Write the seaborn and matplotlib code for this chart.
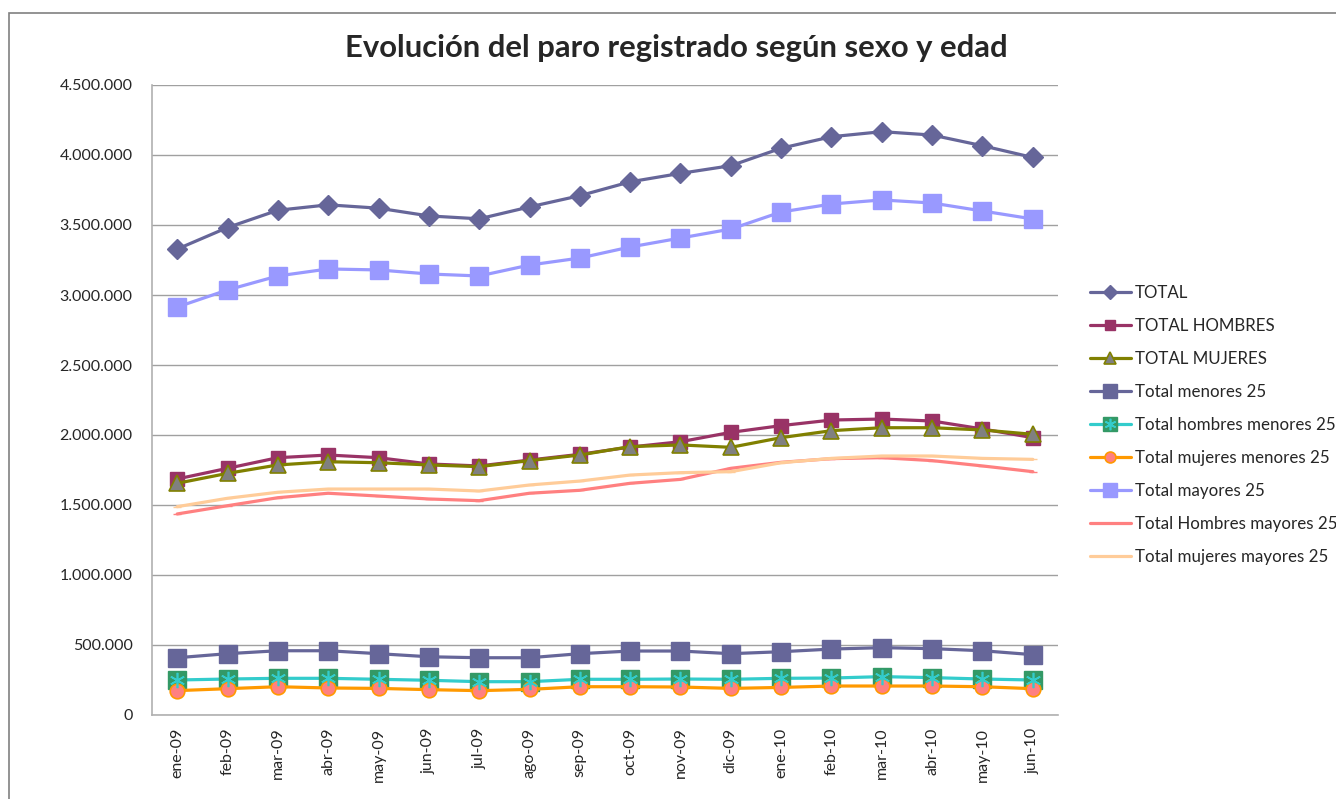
import numpy as np
import pandas as pd
import matplotlib
matplotlib.use("Agg")
import matplotlib.pyplot as plt
from matplotlib.ticker import FuncFormatter, MultipleLocator
from matplotlib.patches import Rectangle
from matplotlib.lines import Line2D
from matplotlib.legend_handler import HandlerTuple
import seaborn as sns

meses = ["ene-09", "feb-09", "mar-09", "abr-09", "may-09", "jun-09", "jul-09", "ago-09", "sep-09",
         "oct-09", "nov-09", "dic-09", "ene-10", "feb-10", "mar-10", "abr-10", "may-10", "jun-10"]

total = [3327801, 3481859, 3605402, 3644041, 3620139, 3564889, 3544105, 3629080, 3709447,
         3808353, 3868946, 3923603, 4048493, 4130625, 4166613, 4142425, 4066202, 3982368]
total_hombres = [1686000, 1762000, 1838000, 1857000, 1838000, 1793000, 1779000, 1821000, 1862000,
                 1914000, 1952000, 2019000, 2067000, 2107000, 2114000, 2100000, 2043000, 1981000]
total_mujeres = [1655000, 1726000, 1786000, 1809000, 1802000, 1786000, 1774000, 1817000, 1857000,
                 1917000, 1929000, 1912000, 1981000, 2031000, 2052000, 2052000, 2036000, 2005000]
menores25 = [409000, 438000, 459000, 459000, 438000, 416000, 409000, 409000, 438000,
             457000, 457000, 438000, 452000, 471000, 481000, 474000, 459000, 431000]
hombres_menores25 = [250000, 257000, 262000, 262000, 255000, 248000, 238000, 238000, 255000,
                     255000, 257000, 255000, 262000, 264000, 274000, 267000, 257000, 250000]
mujeres_menores25 = [174000, 188000, 202000, 193000, 190000, 181000, 174000, 183000, 202000,
                     202000, 200000, 190000, 197000, 207000, 207000, 207000, 202000, 188000]
mayores25 = [2914000, 3036000, 3136000, 3186000, 3179000, 3150000, 3136000, 3214000, 3264000,
             3343000, 3407000, 3471000, 3593000, 3650000, 3679000, 3657000, 3600000, 3543000]
hombres_mayores25 = [1436000, 1495000, 1552000, 1584000, 1564000, 1543000, 1531000, 1584000, 1605000,
                     1655000, 1683000, 1762000, 1805000, 1831000, 1838000, 1817000, 1779000, 1738000]
mujeres_mayores25 = [1488000, 1548000, 1591000, 1614000, 1614000, 1614000, 1600000, 1643000, 1671000,
                     1714000, 1731000, 1738000, 1802000, 1833000, 1850000, 1850000, 1833000, 1826000]

series = [
    ("TOTAL", total, dict(color="#666699", marker="D", markersize=10, mfc="#666699", mec="#666699")),
    ("TOTAL HOMBRES", total_hombres, dict(color="#993366", marker="s", markersize=10, mfc="#993366", mec="#993366")),
    ("TOTAL MUJERES", total_mujeres, dict(color="#808000", marker="^", markersize=12, mfc="#808080", mec="#808000", mew=1.2)),
    ("Total menores 25", menores25, dict(color="#666699", marker="s", markersize=13.5, mfc="#666699", mec="#666699")),
    ("Total hombres menores 25", hombres_menores25, dict(color="#33CCCC", marker="s", markersize=13, mfc="#339966", mec="#339966")),
    ("Total mujeres menores 25", mujeres_menores25, dict(color="#FF9900", marker="o", markersize=10.5, mfc="#FF8080", mec="#FF9900", mew=1.2)),
    ("Total mayores 25", mayores25, dict(color="#9999FF", marker="s", markersize=13.5, mfc="#9999FF", mec="#9999FF")),
    ("Total Hombres mayores 25", hombres_mayores25, dict(color="#FF8080", marker="_", markersize=6, mfc="#FF8080", mec="#FF8080")),
    ("Total mujeres mayores 25", mujeres_mayores25, dict(color="#FFCC99", marker="_", markersize=6, mfc="#FFCC99", mec="#FFCC99")),
]

sns.set_style("white")
plt.rcParams["font.family"] = ["Lato", "DejaVu Sans"]

fig = plt.figure(figsize=(13.36, 7.99), dpi=100)
ax = fig.add_axes([152 / 1336, 84 / 799, 906 / 1336, 630 / 799])

STAR = (6, 2, 0)
handles, labels = [], []
for name, vals, st in series:
    df = pd.DataFrame({"mes": meses, "valor": vals})
    sns.lineplot(data=df, x="mes", y="valor", ax=ax, sort=False, color=st["color"], linewidth=2.3,
                 marker=st["marker"], markersize=st["markersize"],
                 markerfacecolor=st["mfc"], markeredgecolor=st["mec"],
                 markeredgewidth=st.get("mew", 1.0), legend=False, zorder=3)
    lscale = 0.75
    h = Line2D([], [], color=st["color"], linewidth=2.3, marker=st["marker"],
               markersize=st["markersize"] * lscale, markerfacecolor=st["mfc"],
               markeredgecolor=st["mec"], markeredgewidth=st.get("mew", 1.0))
    if name == "Total hombres menores 25":
        sns.lineplot(data=df, x="mes", y="valor", ax=ax, sort=False, linestyle="none",
                     marker=STAR, markersize=11, markeredgecolor="#33CCCC", markeredgewidth=1.2,
                     color="#33CCCC", legend=False, zorder=4)
        h2 = Line2D([], [], linestyle="none", marker=STAR, markersize=11 * lscale,
                    markeredgecolor="#33CCCC", markeredgewidth=1.2, color="#33CCCC")
        h = (h, h2)
    handles.append(h)
    labels.append(name)

ax.set_ylim(0, 4500000)
ax.set_xlim(-0.5, len(meses) - 0.5)
ax.yaxis.set_major_locator(MultipleLocator(500000))
ax.yaxis.set_major_formatter(FuncFormatter(lambda v, p: f"{int(round(v)):,}".replace(",", ".")))
ax.grid(axis="y", color="#a0a0a0", linewidth=1.0)
ax.grid(axis="x", visible=False)
ax.set_axisbelow(True)
for s in ["top", "right"]:
    ax.spines[s].set_visible(False)
for s in ["left", "bottom"]:
    ax.spines[s].set_color("#b0b0b0")
    ax.spines[s].set_linewidth(1.2)
ax.set_xlabel("")
ax.set_ylabel("")
ax.tick_params(axis="y", labelsize=11.5, pad=14, length=0)
ax.tick_params(axis="x", labelsize=11.5, pad=9, length=0)
for lab in ax.get_xticklabels():
    lab.set_rotation(90)

fig.legend(handles, labels, loc="center left", bbox_to_anchor=(1090 / 1336, 1 - 425 / 799),
           bbox_transform=fig.transFigure, frameon=False, fontsize=12.2, handlelength=2.4,
           labelspacing=1.0, handletextpad=0.25, borderpad=0, borderaxespad=0,
           handler_map={tuple: HandlerTuple(ndivide=1, pad=0)})

fig.text(676 / 1336, 1 - 48 / 799, "Evolución del paro registrado según sexo y edad",
         ha="center", va="center", fontsize=22.3, fontweight="bold")

fig.patches.append(Rectangle((9 / 1336, -0.05), 1.1, 1 - 13 / 799 + 0.05, transform=fig.transFigure,
                             fill=False, edgecolor="#808080", linewidth=1.2))

fig.savefig("out.png", dpi=100)
